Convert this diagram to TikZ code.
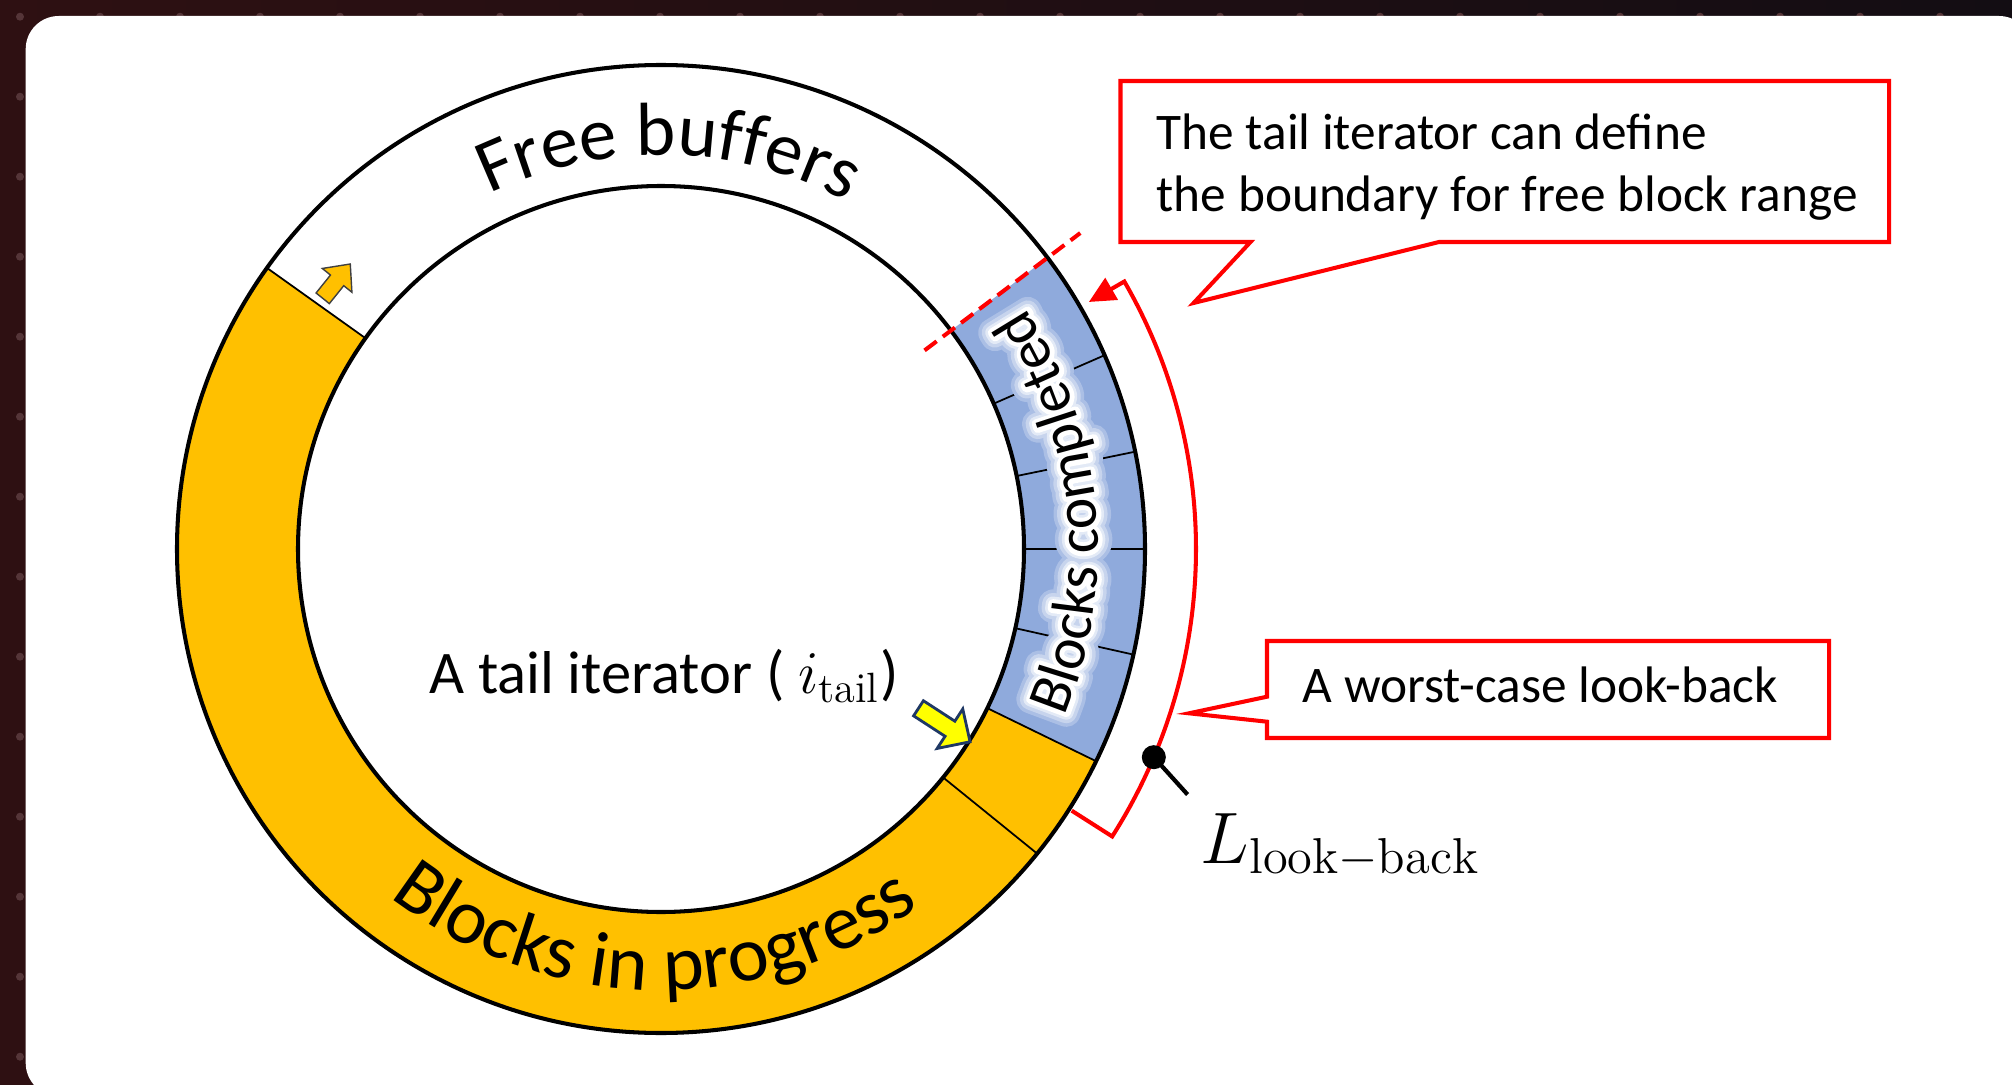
\documentclass[tikz,border=0pt]{standalone}
\usepackage{fontspec}
\newfontfamily\carlito{Carlito}
\usetikzlibrary{decorations.text, arrows.meta}
\definecolor{bgdark}{HTML}{2E1012}
\definecolor{bgdarkr}{HTML}{130D13}
\definecolor{dotcol}{HTML}{553538}
\definecolor{ringyellow}{HTML}{FFC000}
\definecolor{ringblue}{HTML}{8FAADC}
\definecolor{callred}{HTML}{FF0000}
\definecolor{navy}{HTML}{1F3864}
\definecolor{brightyellow}{HTML}{FFFF00}
\newcommand{\glowon}[1]{\special{pdf:literal direct 1 Tr #1 w 1 j}}
\newcommand{\glowoff}{\special{pdf:literal direct 0 Tr}}
\begin{document}
\begin{tikzpicture}[x=0.01cm, y=0.01cm,
  ringline/.style={line width=1.15pt, draw=black},
  divline/.style={line width=0.5pt, draw=black},
  callout/.style={draw=callred, line width=1.15pt, fill=white, line join=miter},
  calltext/.style={font=\carlito\fontsize{14.6pt}{17.6pt}\selectfont, inner sep=0pt, anchor=base west},
  redline/.style={draw=callred, line width=1.15pt},
  blockarrow/.style={line join=miter}
]
\useasboundingbox (0,0) rectangle (2012,1084);
% background
\shade[left color=bgdark, right color=bgdarkr] (0,0) rectangle (2012,1084);
\foreach \i in {0,...,25} \foreach \j in {0,...,13}
  \fill[dotcol] ({20+80*\i},{1084-16.7-80*\j}) circle[radius=4];
\fill[white, rounded corners=0.33cm] (25.7,-12) rectangle (2032,1068);

% ring
\begin{scope}[shift={(661,535)}]
  \fill[ringyellow] (144.5:484) arc[start angle=144.5, end angle=334, radius=484]
     -- (334:363) arc[start angle=334, end angle=144.5, radius=363] -- cycle;
  \fill[ringblue] (-26:484) arc[start angle=-26, end angle=37, radius=484]
     -- (37:363) arc[start angle=37, end angle=-26, radius=363] -- cycle;
  \foreach \a in {144.5,-39,-26,-12.6,0,11.6,23.6}
    \draw[divline] (\a:363) -- (\a:484);
  \draw[ringline] (0,0) circle[radius=484];
  \draw[ringline] (0,0) circle[radius=363];

  % ring labels
  \path[decorate, decoration={text along path, text align=center,
     text={|\carlito\fontsize{21.4pt}{26pt}\selectfont|Free buffers}}]
     (148.8:394) arc[start angle=148.8, end angle=28.8, radius=394];
  \path[decorate, decoration={text along path, text align=center,
     text={|\carlito\fontsize{22.2pt}{26pt}\selectfont|Blocks in progress}}]
     (-150:441) arc[start angle=-150, end angle=-32, radius=441];
  % soft glow behind "Blocks completed"
  \foreach \w/\c in {8/25, 6/50, 4/75, 2.5/100}
    \path[decorate, decoration={text along path, text align=center,
       text={|\glowon{\w}\color{white!\c!ringblue}\carlito\fontsize{17pt}{20pt}\selectfont|Blocks completed}}]
       (-45:437) arc[start angle=-45, end angle=56, radius=437];
  \path[decorate, decoration={text along path, text align=center,
     text={|\glowoff\color{black}\carlito\fontsize{17pt}{20pt}\selectfont|Blocks completed}}]
     (-45:437) arc[start angle=-45, end angle=56, radius=437];

  % dashed boundary
  \draw[redline, dash pattern=on 4.3pt off 2.2pt] (37:330) -- (37:525);

  % look-back bracket
  \coordinate (brstart) at (-32.5:487);
  \coordinate (brend) at (30:494);
  \draw[redline, -{Triangle[length=7.5pt, width=7pt]}]
     (brstart) -- (-32.5:535) arc[start angle=-32.5, end angle=30, radius=535] -- (brend);
  \node[circle, fill=black, inner sep=0pt, minimum size=0.24cm] (dot) at (-22.9:535) {};
  \coordinate (tickend) at (-25:581);
  \draw[line width=1.2pt] (dot.center) -- (tickend);
\end{scope}

% block arrows
\draw[blockarrow, fill=ringyellow, draw=black!75, line width=0.4pt, shift={(322.7,785.7)}, rotate=51.2]
  (0,-8.5) -- (23,-8.5) -- (23,-19) -- (44,0) -- (23,19) -- (23,8.5) -- (0,8.5) -- cycle;
\draw[blockarrow, fill=brightyellow, draw=navy, line width=0.8pt, shift={(918.5,375.7)}, rotate=-33]
  (0,-9) -- (37.5,-9) -- (37.5,-23.5) -- (61.5,0) -- (37.5,23.5) -- (37.5,9) -- (0,9) -- cycle;

% labels
\node[inner sep=0pt, anchor=base west, font=\carlito\fontsize{17.2pt}{20pt}\selectfont] (tail) at (428.7,391)
  {A tail iterator ( $i_{\mathrm{tail}}$)};
\node[inner sep=0pt, anchor=base west, font=\fontsize{20.5pt}{24pt}\selectfont] (lookback) at (1200,221)
  {$L_{\mathrm{look}{-}\mathrm{back}}$};

% callout 1
\coordinate (c1tip) at (1193.6,781);
\draw[callout] (1120.5,1003) -- (1889,1003) -- (1889,842) -- (1439,842) -- (c1tip) -- (1250.5,842) -- (1120.5,842) -- cycle;
\node[calltext] (c1a) at (1156,934) {The tail iterator can define};
\node[calltext] (c1b) at (1156,872) {the boundary for free block range};

% callout 2
\coordinate (c2tip) at (1189,370.7);
\draw[callout] (1267,443) -- (1829,443) -- (1829,346) -- (1267,346) -- (1267,362.3) -- (c2tip) -- (1267,387.3) -- cycle;
\node[calltext] (c2a) at (1302,382) {A worst-case look-back};
\end{tikzpicture}
\end{document}
